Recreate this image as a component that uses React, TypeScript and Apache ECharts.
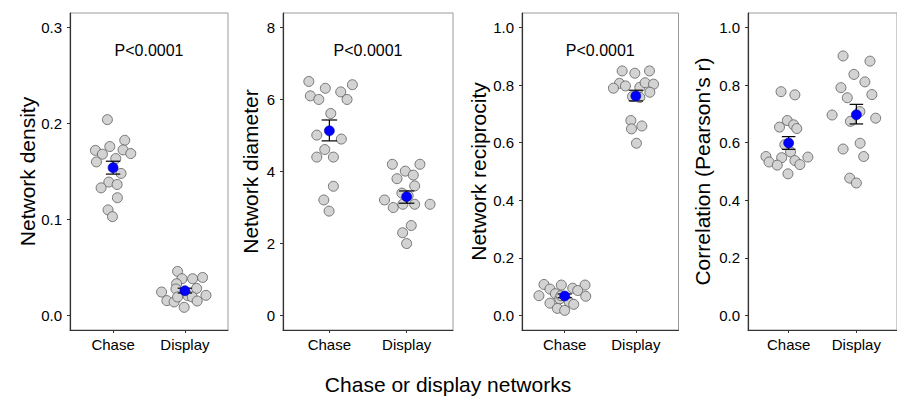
import React, { useEffect, useRef } from "react";
import * as echarts from "echarts";

const categories = ["Chase", "Display"];
const xTitle = "Chase or display networks";
const yTitles = ["Network density", "Network diameter", "Network reciprocity", "Correlation (Pearson's r)"];
const pLabels = ["P<0.0001", "P<0.0001", "P<0.0001", ""];

// [jittered x, value]
const densityChase = [
  [0.921, 0.204], [0.754, 0.172], [0.851, 0.168], [0.954, 0.176], [1.162, 0.1825], [1.139, 0.1725],
  [1.246, 0.1687], [0.768, 0.16], [1.037, 0.1635], [1.111, 0.148], [0.94, 0.139], [1.056, 0.1365],
  [0.833, 0.133], [1.06, 0.1227], [0.93, 0.11], [0.991, 0.103],
];
const densityDisplay = [
  [1.898, 0.046], [1.959, 0.0384], [2.107, 0.0384], [2.246, 0.0397], [1.884, 0.0332], [1.875, 0.0277],
  [2.163, 0.0283], [1.675, 0.0245], [1.749, 0.0156], [1.85, 0.0142], [1.898, 0.0194], [2.042, 0.0207],
  [2.102, 0.0194], [2.171, 0.0152], [2.293, 0.0211], [1.99, 0.0086],
];
const diameterChase = [
  [0.734, 6.5], [0.948, 6.31], [1.298, 6.41], [0.754, 6.1], [0.863, 6.0], [1.147, 6.21],
  [1.229, 6.0], [1.018, 5.61], [0.837, 5.01], [1.155, 4.9], [0.94, 4.61], [0.837, 4.4],
  [1.052, 4.4], [1.052, 3.59], [0.928, 3.21], [0.996, 2.9],
];
const diameterDisplay = [
  [1.815, 4.2], [2.172, 4.2], [1.983, 4.01], [2.086, 3.9], [1.875, 3.8], [2.104, 3.6],
  [1.939, 3.4], [2.02, 3.33], [1.714, 3.21], [1.827, 3.0], [1.951, 3.09], [2.104, 3.09],
  [2.303, 3.09], [2.06, 2.5], [1.948, 2.3], [2.0, 2.0],
];
const reciprocityChase = [
  [0.709, 0.108], [0.953, 0.106], [1.286, 0.106], [0.793, 0.092], [1.113, 0.095], [1.183, 0.087],
  [0.638, 0.069], [0.869, 0.076], [1.296, 0.067], [0.93, 0.058], [1.061, 0.048], [0.793, 0.043],
  [1.127, 0.039], [0.897, 0.025], [1.0, 0.018], [0.948, 0.069],
];
const reciprocityDisplay = [
  [1.808, 0.849], [1.986, 0.841], [2.192, 0.849], [1.77, 0.806], [1.685, 0.789], [1.854, 0.797],
  [2.056, 0.792], [2.131, 0.808], [2.249, 0.803], [2.197, 0.775], [1.953, 0.76], [2.056, 0.757],
  [1.93, 0.677], [1.939, 0.648], [2.085, 0.658], [2.009, 0.598],
];
const correlationChase = [
  [0.888, 0.777], [1.092, 0.766], [0.98, 0.677], [1.074, 0.662], [1.12, 0.649], [0.865, 0.654],
  [0.944, 0.593], [1.028, 0.568], [0.665, 0.552], [0.711, 0.533], [0.897, 0.548], [1.284, 0.55],
  [1.092, 0.538], [1.166, 0.524], [0.832, 0.522], [0.99, 0.492],
];
const correlationDisplay = [
  [1.804, 0.901], [2.201, 0.883], [1.964, 0.837], [2.126, 0.811], [1.772, 0.791], [2.229, 0.767],
  [1.866, 0.756], [1.642, 0.696], [2.052, 0.708], [1.912, 0.674], [2.285, 0.685], [1.804, 0.578],
  [2.056, 0.598], [2.108, 0.552], [1.902, 0.477], [2.0, 0.46],
];

const densityMean = [0.154, 0.0259];
const diameterMean = [5.13, 3.3];
const reciprocityMean = [0.068, 0.762];
const correlationMean = [0.599, 0.697];

// [low, high] of error bars
const densityErr = [[0.1473, 0.1607], [0.0235, 0.0285]];
const diameterErr = [[4.85, 5.43], [3.12, 3.46]];
const reciprocityErr = [[0.062, 0.075], [0.745, 0.782]];
const correlationErr = [[0.577, 0.621], [0.665, 0.733]];

const yTicks = [
  [0, 0.1, 0.2, 0.3],
  [0, 2, 4, 6, 8],
  [0, 0.2, 0.4, 0.6, 0.8, 1.0],
  [0, 0.2, 0.4, 0.6, 0.8, 1.0],
];
const yRanges = [[-0.015, 0.315], [-0.4, 8.4], [-0.05, 1.05], [-0.05, 1.05]];
const pYs = [0.276, 7.37, 0.921, 0];

const FONT = "'Liberation Sans', Arial, Helvetica, sans-serif";
const grids = [
  { left: 70, width: 158 },
  { left: 283, width: 170 },
  { left: 522, width: 156.5 },
  { left: 748, width: 157.5 },
];
const GRID_TOP = 13;
const GRID_H = 317;

export default function App() {
  const ref = useRef<HTMLDivElement>(null);

  useEffect(() => {
    if (!ref.current) return;
    const chart = echarts.init(ref.current, undefined, { renderer: "svg" });

    const points = [
      [densityChase, densityDisplay],
      [diameterChase, diameterDisplay],
      [reciprocityChase, reciprocityDisplay],
      [correlationChase, correlationDisplay],
    ];
    const means = [densityMean, diameterMean, reciprocityMean, correlationMean];
    const errs = [densityErr, diameterErr, reciprocityErr, correlationErr];

    const series: any[] = [];
    for (let i = 0; i < 4; i++) {
      series.push({
        type: "scatter",
        xAxisIndex: i,
        yAxisIndex: i,
        symbol: "circle",
        symbolSize: 10,
        data: [...points[i][0], ...points[i][1]],
        itemStyle: { color: "#d3d3d3", borderColor: "#5a5a5a", borderWidth: 0.8, opacity: 1 },
        silent: true,
        z: 2,
      });
      series.push({
        type: "custom",
        xAxisIndex: i,
        yAxisIndex: i,
        data: errs[i].map((e, k) => [k + 1, e[0], e[1]]),
        renderItem: (params: any, api: any) => {
          const x = api.value(0);
          const lo = api.value(1);
          const hi = api.value(2);
          const pLo = api.coord([x, lo]);
          const pHi = api.coord([x, hi]);
          const l = api.coord([x - 0.1, hi]);
          const r = api.coord([x + 0.1, hi]);
          const hw = (r[0] - l[0]) / 2;
          const style = { stroke: "#000", lineWidth: 1.2 };
          return {
            type: "group",
            children: [
              { type: "line", shape: { x1: pLo[0], y1: pLo[1], x2: pHi[0], y2: pHi[1] }, style },
              { type: "line", shape: { x1: pHi[0] - hw, y1: pHi[1], x2: pHi[0] + hw, y2: pHi[1] }, style },
              { type: "line", shape: { x1: pLo[0] - hw, y1: pLo[1], x2: pLo[0] + hw, y2: pLo[1] }, style },
            ],
          };
        },
        z: 3,
        silent: true,
      });
      series.push({
        type: "scatter",
        xAxisIndex: i,
        yAxisIndex: i,
        symbol: "circle",
        symbolSize: 10,
        data: means[i].map((m, k) => [k + 1, m]),
        itemStyle: { color: "#0000ff", borderColor: "#00009a", borderWidth: 0.6, opacity: 1 },
        silent: true,
        z: 4,
      });
      if (pLabels[i]) {
        series.push({
          type: "custom",
          xAxisIndex: i,
          yAxisIndex: i,
          data: [[1.5, pYs[i]]],
          renderItem: (params: any, api: any) => {
            const p = api.coord([api.value(0), api.value(1)]);
            return {
              type: "text",
              x: p[0],
              y: p[1],
              style: {
                text: pLabels[i],
                fontSize: 16,
                fontFamily: FONT,
                fill: "#000",
                align: "center",
                verticalAlign: "middle",
              },
            };
          },
          silent: true,
          z: 5,
        });
      }
    }

    const yTitleX = [27, 250, 478, 702];

    const option: any = {
      animation: false,
      backgroundColor: "#fff",
      grid: grids.map((g) => ({
        left: g.left,
        width: g.width,
        top: GRID_TOP,
        height: GRID_H,
        show: true,
        borderColor: "#9a9a9a",
        borderWidth: 1,
        backgroundColor: "transparent",
        containLabel: false,
      })),
      xAxis: grids.map((g, i) => ({
        type: "value",
        gridIndex: i,
        min: 0.4,
        max: 2.6,
        axisLine: { show: true, onZero: false, lineStyle: { color: "#333", width: 1.2 } },
        axisTick: { show: true, length: 3, customValues: [1, 2], lineStyle: { color: "#333" } },
        axisLabel: {
          customValues: [1, 2],
          formatter: (v: number) => categories[Math.round(v) - 1],
          fontSize: 15,
          color: "#000",
          fontFamily: FONT,
          margin: 7,
        },
        splitLine: { show: false },
      })),
      yAxis: grids.map((g, i) => ({
        type: "value",
        gridIndex: i,
        min: yRanges[i][0],
        max: yRanges[i][1],
        axisLine: { show: true, onZero: false, lineStyle: { color: "#333", width: 1.2 } },
        axisTick: { show: true, length: 3, customValues: yTicks[i], lineStyle: { color: "#333" } },
        axisLabel: {
          customValues: yTicks[i],
          formatter: (v: number) => (i === 1 ? String(Math.round(v)) : v.toFixed(1)),
          fontSize: 15,
          color: "#000",
          fontFamily: FONT,
          margin: 8,
        },
        splitLine: { show: false },
      })),
      graphic: [
        ...yTitles.map((t, i) => ({
          type: "text",
          x: yTitleX[i],
          y: GRID_TOP + GRID_H / 2,
          rotation: Math.PI / 2,
          style: {
            text: t,
            fontSize: 21,
            fontFamily: FONT,
            fill: "#000",
            align: "center",
            verticalAlign: "middle",
          },
        })),
        {
          type: "text",
          x: 448,
          y: 384,
          style: {
            text: xTitle,
            fontSize: 21,
            fontFamily: FONT,
            fill: "#000",
            align: "center",
            verticalAlign: "middle",
          },
        },
      ],
      series,
    };

    chart.setOption(option);
    return () => chart.dispose();
  }, []);

  return (
    <div
      ref={ref}
      style={{ position: "absolute", left: 0, top: 0, width: 897, height: 396, overflow: "hidden" }}
    />
  );
}
